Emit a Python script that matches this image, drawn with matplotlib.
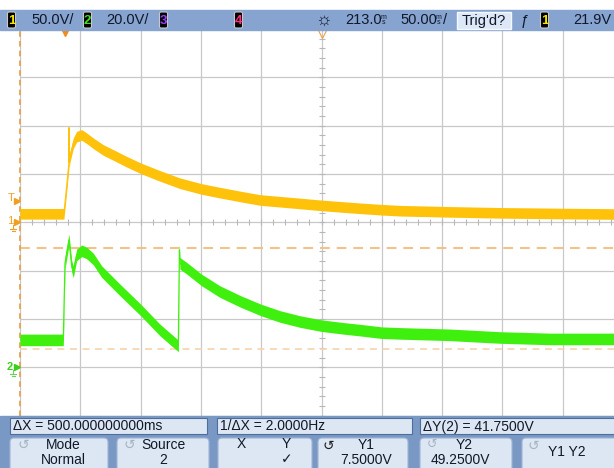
import matplotlib
matplotlib.use("Agg")
import matplotlib.pyplot as plt
from matplotlib.patches import Rectangle, FancyBboxPatch
import numpy as np

plt.rcParams['font.family'] = ['Liberation Sans', 'DejaVu Sans']
plt.rcParams['lines.scale_dashes'] = False

# scope settings
ch1_scale = 50.0      # V/div
ch2_scale = 20.0      # V/div
ch2_offset = -3.0     # ground position of channel 2, in div
time_scale = 50.0     # ms/div
delay = 213.0         # ms at screen centre
y1_cursor = 7.5       # V on channel 2
y2_cursor = 49.25

# channel 1 (yellow), time in ms after trigger, volts
ch1_t = [-37, -1.5, -0.6, 1.7, 3.0, 3.5, 3.6, 3.7, 4.5, 7.2, 10, 14.2, 18.3, 23.8,
         32, 40.4, 51.5, 63.2, 79.1, 95.7, 113.6, 128.8, 145.4, 162, 195.2, 213,
         245, 263, 278, 319.5, 361, 410.8, 463]
ch1_v = [8.8, 8.8, 8.8, 36.8, 54, 60, 98, 62, 67.9, 81.8, 88.7, 90.4, 87, 81.8,
         74.9, 69.7, 62.7, 55.9, 48, 40.4, 34.5, 30.7, 26.8, 23.1, 19.5, 17.5,
         14.5, 13, 12, 10.8, 9.8, 9.1, 8.5]

# channel 2 (green)
ch2_t = [-37, -1.1, 0.3, 1.7, 3.6, 5.9, 7.2, 10, 14.2, 18.3, 23.8, 30.7, 45.9,
         63.1, 79.1, 94.3, 95.2, 95.6, 101.2, 113.6, 128.8, 146, 162.8, 178.6,
         195.2, 213, 231, 247.6, 262.8, 278, 319.5, 361, 402.5, 463]
ch2_v = [11.3, 11.3, 43, 47.2, 52.7, 41.7, 39.5, 46.5, 48.2, 47.3, 44.8, 39.6, 32.0,
         23.7, 15.4, 8.8, 48.6, 43, 41, 36.1, 31.3, 27.2, 23.7, 21,
         18.9, 17.2, 16.1, 15.2, 14.3, 14.0, 13.4, 12.3, 11.7, 11.7]

W, H = 614, 468
fig = plt.figure(figsize=(W / 100, H / 100), dpi=100)
fig.patch.set_facecolor("white")

# graticule: 10 x 8 divisions, right part runs off the picture
gx0, gx1, gy0, gy1 = 20, 623, 29.1, 415.5
ax = fig.add_axes([gx0 / W, 1 - gy1 / H, (gx1 - gx0) / W, (gy1 - gy0) / H])
t_left = delay - 5 * time_scale
ax.set_xlim(t_left, t_left + 10 * time_scale)
ax.set_ylim(-4, 4)
ax.axis("off")

grid_col = "#c8c8c8"
for k in range(11):
    ax.axvline(t_left + k * time_scale, color=grid_col, lw=0.9, zorder=1)
for k in range(-4, 5):
    ax.axhline(k, color=grid_col, lw=0.9, zorder=1)
# minor ticks on the centre lines
ax.plot(np.arange(t_left, t_left + 10 * time_scale + 1, time_scale / 5),
        np.zeros(51), ls="none", marker="|", ms=4, mew=0.8, color="#b8b8b8", zorder=1)
ax.plot(np.full(41, delay), np.arange(-4, 4.01, 0.2),
        ls="none", marker="_", ms=5, mew=0.8, color="#b8b8b8", zorder=1)

# cursors
ax.axhline(y2_cursor / ch2_scale + ch2_offset, color="#f3c18a", lw=1.5,
           dashes=(7, 5), zorder=2)
ax.axhline(y1_cursor / ch2_scale + ch2_offset, color="#f6d3ad", lw=1.2,
           dashes=(5, 4), zorder=2)
ax.axvline(t_left, color="#e9a152", lw=1.3, dashes=(4, 3), zorder=2, clip_on=False)

# traces, drawn as a noise band
y1 = np.array(ch1_v) / ch1_scale
y2 = np.array(ch2_v) / ch2_scale + ch2_offset
yel, grn = "#ffc20a", "#3ff00f"
ax.fill_between(ch1_t, y1 - 0.11, y1 + 0.11, color=yel, lw=0, zorder=3)
ax.plot(ch1_t, y1, color=yel, lw=0.9, zorder=3)
ax.fill_between(ch2_t, y2 - 0.12, y2 + 0.12, color=grn, lw=0, zorder=3)
ax.plot(ch2_t, y2, color=grn, lw=0.9, zorder=3)

# trigger and delay markers at the top
ax.plot([0], [3.93], marker="v", ms=6, color="#f08c1e", clip_on=False, zorder=5)
ax.plot([delay], [3.9], marker="v", ms=6, mfc="none", mec="#f0a040", mew=0.8,
        clip_on=False, zorder=5)

# overlay in pixel coordinates for the bars and labels
ov = fig.add_axes([0, 0, 1, 1])
ov.set_xlim(0, W)
ov.set_ylim(H, 0)
ov.axis("off")
ov.patch.set_alpha(0)

# left side channel markers
orange = "#f0a020"
ov.text(11, 198, "T", color=orange, fontsize=8, ha="center", va="center")
ov.plot([17], [200.5], marker=">", ms=4, color=orange)
ov.text(10, 221, "1", color=orange, fontsize=8, ha="center", va="center")
ov.plot([17], [222.3], marker=">", ms=4, color=orange)
ov.plot([13, 13], [225, 229], color=orange, lw=0.8)
ov.plot([10, 16], [229, 229], color=orange, lw=0.8)
ov.plot([11.5, 14.5], [231, 231], color=orange, lw=0.8)
ov.text(10, 367, "2", color="#3ad01a", fontsize=8, fontweight="bold",
        ha="center", va="center")
ov.plot([17], [367.3], marker=">", ms=4, color="#3ad01a")
ov.plot([13, 13], [370, 374], color="#6ad060", lw=0.8)
ov.plot([10, 16], [374, 374], color="#6ad060", lw=0.8)
ov.plot([11.5, 14.5], [376, 376], color="#6ad060", lw=0.8)

# top status bar
ov.add_patch(Rectangle((0, 10), W, 20, color="#87a4d1", zorder=1))


def badge(x, label, col):
    ov.add_patch(FancyBboxPatch((x, 12.5), 7, 15, boxstyle="round,pad=0.5,rounding_size=1.5",
                                fc="black", ec="#c8c8c8", lw=0.8, zorder=2))
    ov.text(x + 3.5, 20.5, label, color=col, fontsize=9.5, fontweight="bold",
            ha="center", va="center", zorder=3)


def ms_glyph(x):
    # the scope writes "ms" as one small stacked sign
    ov.text(x, 17.5, "m", fontsize=5, color=txt, ha="left", va="center")
    ov.text(x + 1, 23, "s", fontsize=5, color=txt, ha="left", va="center")


txt = "#101828"
badge(8, "1", "#f5e600")
ov.text(31, 20.5, "50.0V/", fontsize=10.5, color=txt, va="center")
badge(84, "2", "#40e020")
ov.text(106, 20.5, "20.0V/", fontsize=10.5, color=txt, va="center")
badge(160, "3", "#9a40ff")
badge(235, "4", "#ff3080")
ov.text(323, 20, "\u263c", fontsize=13, color=txt, ha="center", va="center")
ov.text(345, 20.5, "213.0", fontsize=10.5, color=txt, va="center")
ms_glyph(381)
ov.text(400, 20.5, "50.00", fontsize=10.5, color=txt, va="center")
ms_glyph(436)
ov.text(443, 20.5, "/", fontsize=10.5, color=txt, va="center")
ov.add_patch(Rectangle((457, 12), 54, 17, fc="#dce8f7", ec="#f4f8fc", lw=1, zorder=2))
ov.text(484, 20.5, "Trig'd?", fontsize=10.5, color=txt, ha="center", va="center", zorder=3)
ov.text(525, 20.5, "\u0192", fontsize=10.5, color=txt, ha="center", va="center")
badge(541, "1", "#f5e600")
ov.text(573, 20.5, "21.9V", fontsize=10.5, color=txt, va="center")

# bottom cursor panel
ov.add_patch(Rectangle((0, 416), W, H - 416, color="#7a98c4", zorder=1))
box_fc, box_ec = "#dde7f4", "#4e6e9e"
readouts = [(10, 207, "\u0394X = 500.000000000ms"),
            (217, 412, "1/\u0394X = 2.0000Hz"),
            (420, 630, "\u0394Y(2) = 41.7500V")]
for x0, x1, label in readouts:
    ov.add_patch(Rectangle((x0, 418), x1 - x0, 16, fc=box_fc, ec=box_ec, lw=0.8, zorder=2))
    ov.text(x0 + 3, 426.5, label, fontsize=10, color=txt, va="center", zorder=3)

keys = [(10, 108), (117, 209), (218, 312), (318, 408), (420, 512), (522, 630)]
for x0, x1 in keys:
    ov.add_patch(FancyBboxPatch((x0 + 2, 440), x1 - x0 - 4, 40,
                                boxstyle="round,pad=2,rounding_size=4",
                                fc=box_fc, ec="#9fb4d4", lw=0.8, zorder=2))

icon_light, icon_dark = "#a8b4c4", "#202020"
ov.text(23, 445, "\u21ba", fontsize=10, color=icon_light, ha="center", va="center", zorder=3)
ov.text(63, 445, "Mode", fontsize=10, color=txt, ha="center", va="center", zorder=3)
ov.text(63, 460, "Normal", fontsize=10, color=txt, ha="center", va="center", zorder=3)
ov.text(129, 445, "\u21ba", fontsize=10, color=icon_light, ha="center", va="center", zorder=3)
ov.text(163, 445, "Source", fontsize=10, color=txt, ha="center", va="center", zorder=3)
ov.text(163, 460, "2", fontsize=10, color=txt, ha="center", va="center", zorder=3)
ov.text(241, 444, "X", fontsize=10, color=txt, ha="center", va="center", zorder=3)
ov.text(286, 444, "Y", fontsize=10, color=txt, ha="center", va="center", zorder=3)
ov.text(287, 459, "\u2713", fontsize=10, color=txt, ha="center", va="center", zorder=3)
ov.text(328, 446, "\u21ba", fontsize=10, color=icon_dark, ha="center", va="center", zorder=3)
ov.text(366, 445, "Y1", fontsize=10, color=txt, ha="center", va="center", zorder=3)
ov.text(366, 460, "7.5000V", fontsize=10, color=txt, ha="center", va="center", zorder=3)
ov.text(432, 445, "\u21ba", fontsize=9, color=icon_light, ha="center", va="center", zorder=3)
ov.text(464, 445, "Y2", fontsize=10, color=txt, ha="center", va="center", zorder=3)
ov.text(460, 460, "49.2500V", fontsize=10, color=txt, ha="center", va="center", zorder=3)
ov.text(533, 446, "\u21ba", fontsize=10, color=icon_light, ha="center", va="center", zorder=3)
ov.text(567, 452, "Y1 Y2", fontsize=10, color=txt, ha="center", va="center", zorder=3)

fig.savefig("out.png", dpi=100)
